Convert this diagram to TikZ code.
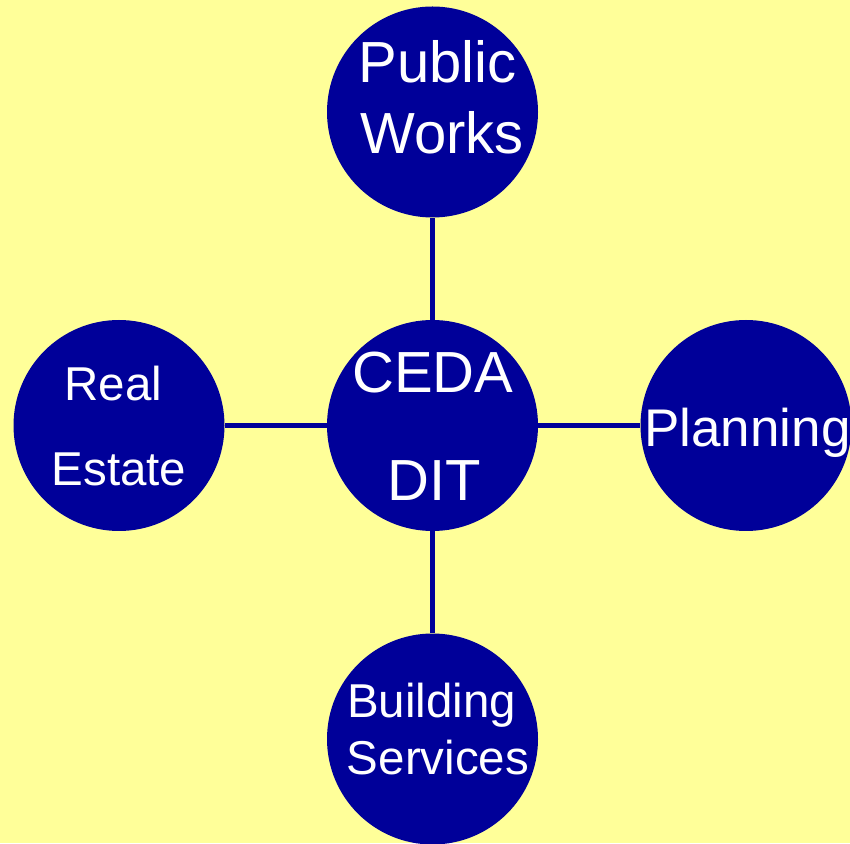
\documentclass[tikz,border=0pt]{standalone}
\usepackage{fontspec}
\setmainfont{Liberation Sans}
\definecolor{bgyellow}{RGB}{255,255,153}
\definecolor{navy}{RGB}{0,0,153}
\begin{document}
\begin{tikzpicture}[x=1pt,y=1pt,
  unit/.style={circle,fill=navy,draw=none,minimum size=211pt,inner sep=0pt},
  conn/.style={draw=navy,line width=5.5pt},
  lbl/.style={text=white,anchor=base,inner sep=0pt},
  big/.style={lbl,font=\fontsize{58}{58}\selectfont},
  mid/.style={lbl,font=\fontsize{53}{53}\selectfont},
  small/.style={lbl,font=\fontsize{47.5}{47.5}\selectfont}]
\useasboundingbox (0,0) rectangle (850,843);
\fill[bgyellow] (0,0) rectangle (850,843);
\node[unit] (pw) at (432.5,731) {};
\node[unit] (re) at (119,417.5) {};
\node[unit] (ceda) at (432.5,417.5) {};
\node[unit] (pl) at (746,417.5) {};
\node[unit] (bs) at (432.5,104) {};
\draw[conn] (ceda) -- (pw);
\draw[conn] (ceda) -- (re);
\draw[conn] (ceda) -- (pl);
\draw[conn] (ceda) -- (bs);
\node[big] (t1) at (437.5,760) {Public};
\node[big] (t2) at (442,689) {Works};
\node[small] (t3) at (113.5,442) {Real};
\node[small] (t4) at (119,357) {Estate};
\node[big] (t5) at (433,450) {CEDA};
\node[big] (t6) at (434.5,342) {DIT};
\node[mid] (t7) at (747.5,396) {Planning};
\node[small] (t8) at (431.5,126) {Building};
\node[small] (t9) at (438,69) {Services};
\end{tikzpicture}
\end{document}
